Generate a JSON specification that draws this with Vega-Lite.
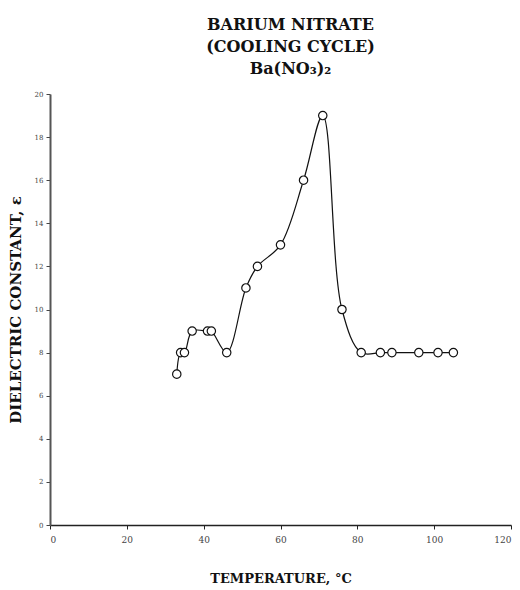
{
  "$schema": "https://vega.github.io/schema/vega-lite/v6.json",
  "width": 461,
  "height": 431,
  "autosize": "none",
  "padding": {"left": 50, "top": 94, "right": 9, "bottom": 65},
  "background": "white",
  "config": {"view": {"stroke": null}, "font": "DejaVu Serif"},
  "title": {
    "text": ["BARIUM NITRATE", "(COOLING CYCLE)", "Ba(NO₃)₂"],
    "font": "DejaVu Serif",
    "fontSize": 16,
    "fontWeight": "bold",
    "lineHeight": 22,
    "anchor": "middle",
    "dx": 10,
    "offset": 13,
    "color": "#111"
  },
  "data": {
    "values": [
      {"t": 33, "e": 7},
      {"t": 34, "e": 8},
      {"t": 35, "e": 8},
      {"t": 37, "e": 9},
      {"t": 41, "e": 9},
      {"t": 42, "e": 9},
      {"t": 46, "e": 8},
      {"t": 51, "e": 11},
      {"t": 54, "e": 12},
      {"t": 60, "e": 13},
      {"t": 66, "e": 16},
      {"t": 71, "e": 19},
      {"t": 76, "e": 10},
      {"t": 81, "e": 8},
      {"t": 86, "e": 8},
      {"t": 89, "e": 8},
      {"t": 96, "e": 8},
      {"t": 101, "e": 8},
      {"t": 105, "e": 8}
    ]
  },
  "encoding": {
    "x": {
      "field": "t",
      "type": "quantitative",
      "scale": {"domain": [0, 120], "nice": false, "zero": true},
      "axis": {
        "title": "TEMPERATURE, °C",
        "titleFont": "DejaVu Serif",
        "titleFontSize": 13,
        "titleFontWeight": "bold",
        "titleColor": "#111",
        "titlePadding": 28,
        "values": [0, 20, 40, 60, 80, 100, 120],
        "grid": false,
        "domainColor": "#222",
        "domainWidth": 1.5,
        "tickColor": "#222",
        "tickSize": 4,
        "labelFont": "DejaVu Serif",
        "labelFontSize": 9,
        "labelColor": "#444",
        "labelPadding": 6
      }
    },
    "y": {
      "field": "e",
      "type": "quantitative",
      "scale": {"domain": [0, 20], "nice": false},
      "axis": {
        "title": "DIELECTRIC CONSTANT, ε",
        "titleFont": "DejaVu Serif",
        "titleFontSize": 15,
        "titleFontWeight": "bold",
        "titleColor": "#111",
        "titlePadding": 11,
        "values": [0, 2, 4, 6, 8, 10, 12, 14, 16, 18, 20],
        "grid": false,
        "domainColor": "#555",
        "domainWidth": 2,
        "tickColor": "#444",
        "tickSize": 4,
        "labelFont": "DejaVu Serif",
        "labelFontSize": 7,
        "labelColor": "#444",
        "labelPadding": 3
      }
    }
  },
  "layer": [
    {
      "mark": {"type": "line", "interpolate": "catmull-rom", "color": "#111", "strokeWidth": 1.2}
    },
    {
      "mark": {"type": "point", "shape": "circle", "filled": false, "fill": "white", "fillOpacity": 1, "stroke": "#111", "strokeWidth": 1.2, "size": 70, "opacity": 1}
    }
  ]
}
